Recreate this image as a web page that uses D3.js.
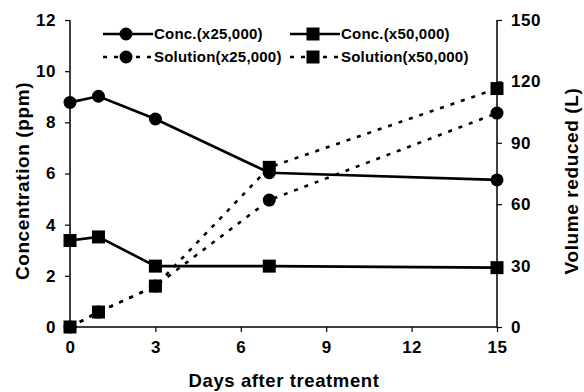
<!DOCTYPE html>
<html><head><meta charset="utf-8">
<script src="https://cdn.jsdelivr.net/npm/d3@7"></script>
<style>body{margin:0;background:#fff}svg{display:block}text{font-family:"Liberation Sans",Arial,sans-serif;font-weight:bold;fill:#000}</style>
</head><body><svg id="c" width="584" height="392"></svg>
<script>
const days = [0, 1, 3, 7, 15];
const concX25 = [8.78, 9.02, 8.13, 6.03, 5.75];
const concX50 = [3.38, 3.52, 2.38, 2.38, 2.32];
const solX25 = [0, 7.3, 20, 62, 104.5];
const solX50 = [0, 7.3, 20, 78, 116.5];
const xTicks = [0, 3, 6, 9, 12, 15];
const yLeftTicks = [0, 2, 4, 6, 8, 10, 12];
const yRightTicks = [0, 30, 60, 90, 120, 150];
const legendLabels = ["Conc.(x25,000)", "Conc.(x50,000)", "Solution(x25,000)", "Solution(x50,000)"];

const svg = d3.select("#c");
const L = 70, R = 497, T = 20, B = 327;
const x = d3.scaleLinear().domain([0, 15]).range([L, R]);
const yL = d3.scaleLinear().domain([0, 12]).range([B, T]);
const yR = d3.scaleLinear().domain([0, 150]).range([B, T]);

const axX = svg.append("g").attr("transform", `translate(0,${B})`)
  .call(d3.axisBottom(x).tickValues(xTicks).tickSize(5).tickPadding(9));
const axL = svg.append("g").attr("transform", `translate(${L},0)`)
  .call(d3.axisLeft(yL).tickValues(yLeftTicks).tickSize(5).tickPadding(9));
const axR = svg.append("g").attr("transform", `translate(${R},0)`)
  .call(d3.axisRight(yR).tickValues(yRightTicks).tickSize(5).tickPadding(9));
[axX, axL, axR].forEach(a => {
  a.select(".domain").attr("stroke", "#000").attr("stroke-width", 1.5);
  a.selectAll(".tick line").attr("stroke", "#000").attr("stroke-width", 1.2);
  a.selectAll("text").attr("font-size", 17).attr("font-family", "Liberation Sans, Arial, sans-serif")
    .attr("font-weight", "bold").attr("letter-spacing", 0.5);
});
axX.select(".domain").attr("d", `M${L},0H${R}`);
axL.select(".domain").attr("d", `M0,${B}V${T}`);
axR.select(".domain").attr("d", `M0,${B}V${T}`);

const series = [
  {vals: solX25, y: yR, dash: "4,7", shape: "circle"},
  {vals: solX50, y: yR, dash: "4,7", shape: "square"},
  {vals: concX25, y: yL, dash: null, shape: "circle"},
  {vals: concX50, y: yL, dash: null, shape: "square"}
];
function marker(g, shape, cx, cy) {
  if (shape === "circle") g.append("circle").attr("cx", cx).attr("cy", cy).attr("r", 6.5).attr("fill", "#000");
  else g.append("rect").attr("x", cx - 6.5).attr("y", cy - 6.5).attr("width", 13).attr("height", 13).attr("fill", "#000");
}
series.forEach(s => {
  const line = d3.line().x((d, i) => x(days[i])).y(d => s.y(d));
  const p = svg.append("path").datum(s.vals).attr("d", line).attr("fill", "none")
    .attr("stroke", "#000").attr("stroke-width", 2.6);
  if (s.dash) p.attr("stroke-dasharray", s.dash);
});
[series[0], series[2], series[1], series[3]].forEach(s => {
  const g = svg.append("g");
  s.vals.forEach((v, i) => marker(g, s.shape, x(days[i]), s.y(v)));
});

// legend
const leg = [
  {lx: 103, ty: 34, dash: null, shape: "circle", label: legendLabels[0]},
  {lx: 290, ty: 34, dash: null, shape: "square", label: legendLabels[1]},
  {lx: 103, ty: 57, dash: "4,7", shape: "circle", label: legendLabels[2]},
  {lx: 290, ty: 57, dash: "4,7", shape: "square", label: legendLabels[3]}
];
leg.forEach(l => {
  const g = svg.append("g");
  const ln = g.append("line").attr("x1", l.lx).attr("x2", l.lx + 50).attr("y1", l.ty).attr("y2", l.ty)
    .attr("stroke", "#000").attr("stroke-width", 2.4);
  if (l.dash) ln.attr("stroke-dasharray", l.dash);
  marker(g, l.shape, l.lx + 23, l.ty);
  g.append("text").attr("x", l.lx + 51).attr("y", l.ty).attr("dy", "0.36em").attr("font-size", 15)
    .attr("letter-spacing", 0.2).text(l.label);
});

svg.append("text").attr("transform", `translate(29,181) rotate(-90)`)
  .attr("text-anchor", "middle").attr("font-size", 19).attr("letter-spacing", 0.6).text("Concentration (ppm)");
svg.append("text").attr("transform", `translate(578,181) rotate(-90)`)
  .attr("text-anchor", "middle").attr("font-size", 19).attr("letter-spacing", 0.6).text("Volume reduced (L)");
svg.append("text").attr("x", 284).attr("y", 387).attr("text-anchor", "middle")
  .attr("font-size", 18.5).attr("letter-spacing", 0.6).text("Days after treatment");
</script></body></html>
